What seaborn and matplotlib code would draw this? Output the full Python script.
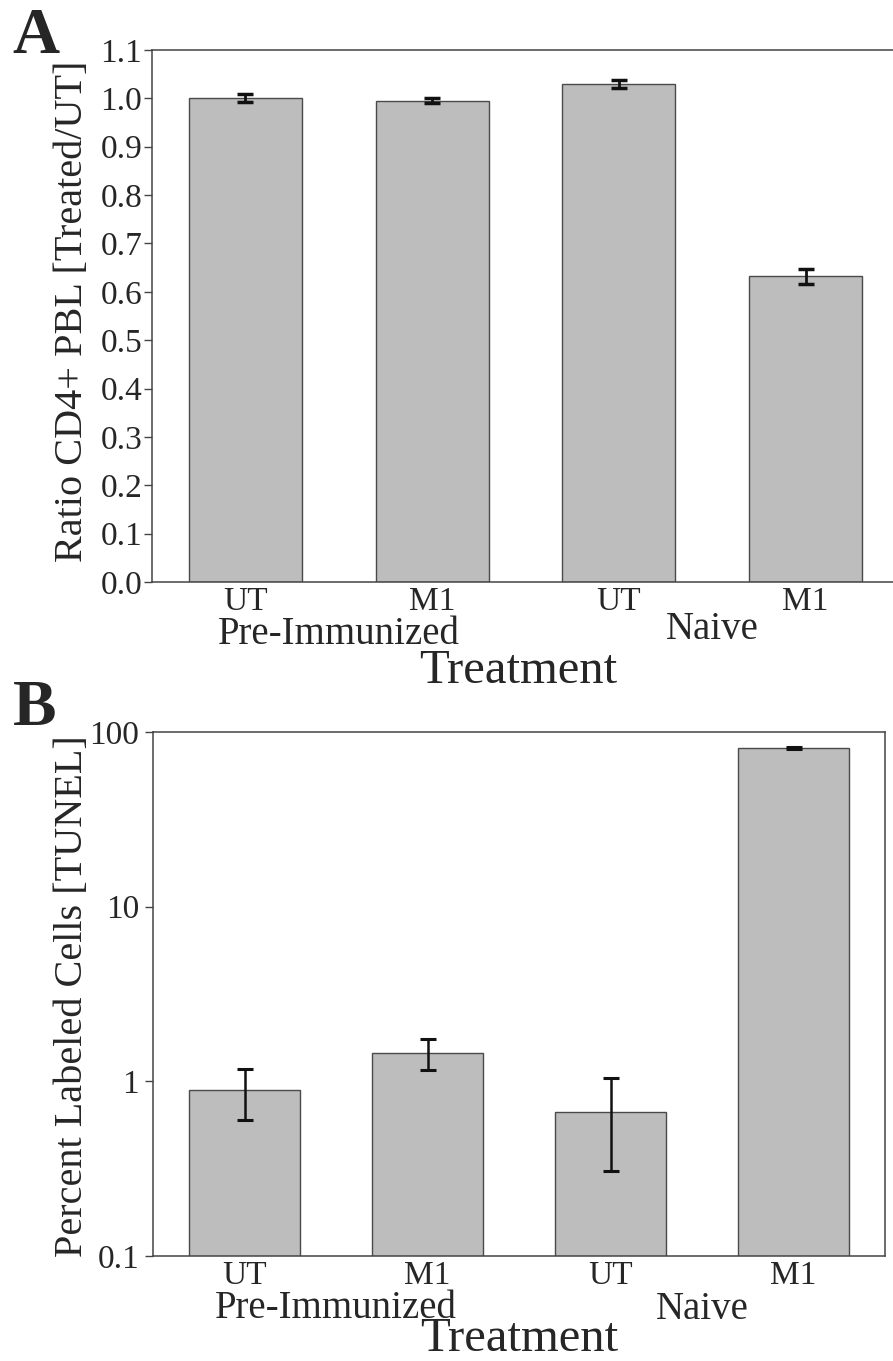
import numpy as np
import pandas as pd
import matplotlib
matplotlib.use("Agg")
import matplotlib.pyplot as plt
import matplotlib.transforms as mtransforms
from matplotlib.ticker import FixedLocator, NullLocator
import seaborn as sns

# data
treatments = ["UT", "M1", "UT", "M1"]
groups = ["Pre-Immunized", "Pre-Immunized", "Naive", "Naive"]
# panel A: ratio CD4+ PBL (treated / UT)
ratio_mean = [1.000, 0.995, 1.029, 0.632]
ratio_err = [0.008, 0.005, 0.008, 0.016]
# panel B: percent TUNEL labeled cells (log axis, asymmetric bars)
tunel_mean = [0.89, 1.46, 0.67, 81.3]
tunel_low = [0.60, 1.16, 0.306, 80.2]
tunel_high = [1.17, 1.75, 1.04, 82.4]

ratio_ticks = [0.0, 0.1, 0.2, 0.3, 0.4, 0.5, 0.6, 0.7, 0.8, 0.9, 1.0, 1.1]
tunel_ticks = [0.1, 1, 10, 100]
tunel_tick_labels = ["0.1", "1", "10", "100"]

sns.set_style("white")
plt.rcParams['font.family'] = ['Liberation Serif', 'DejaVu Serif']

df = pd.DataFrame({
    "key": [g + "_" + t for g, t in zip(groups, treatments)],
    "treatment": treatments,
    "group": groups,
    "ratio": ratio_mean,
    "tunel": tunel_mean,
})
order = list(df["key"])

W, H = 893, 1361
fig = plt.figure(figsize=(W / 100, H / 100), dpi=100)

def px_axes(left, top, right, bottom):
    return fig.add_axes([left / W, 1 - bottom / H, (right - left) / W, (bottom - top) / H])

ax_a = px_axes(152, 50, 899, 582)
ax_b = px_axes(153, 732, 885, 1256)

bar_color = "#bdbdbd"
edge_color = "#4a4a4a"
spine_color = "#444444"

for ax, col in [(ax_a, "ratio"), (ax_b, "tunel")]:
    sns.barplot(data=df, x="key", y=col, order=order, ax=ax, color=bar_color,
                edgecolor=edge_color, linewidth=1.0, errorbar=None, width=0.605,
                saturation=1)

x = np.arange(len(order))

# panel A
ax_a.errorbar(x, ratio_mean, yerr=ratio_err, fmt='none', ecolor='#111111',
              elinewidth=2.0, capsize=6, capthick=2.5)
ax_a.set_ylim(0, 1.1)
ax_a.set_xlim(-0.5, 3.5)
ax_a.yaxis.set_major_locator(FixedLocator(ratio_ticks))
ax_a.set_yticklabels(["%.1f" % t for t in ratio_ticks])
ax_a.spines['right'].set_visible(False)

# panel B
yerr_b = [np.array(tunel_mean) - np.array(tunel_low),
          np.array(tunel_high) - np.array(tunel_mean)]
ax_b.errorbar(x, tunel_mean, yerr=yerr_b, fmt='none', ecolor='#111111',
              elinewidth=1.8, capsize=6, capthick=2.2)
ax_b.set_yscale('log')
ax_b.set_ylim(0.1, 100)
ax_b.set_xlim(-0.5, 3.5)
ax_b.yaxis.set_major_locator(FixedLocator(tunel_ticks))
ax_b.yaxis.set_minor_locator(NullLocator())
ax_b.set_yticklabels(tunel_tick_labels)

for ax in (ax_a, ax_b):
    for s in ax.spines.values():
        s.set_color(spine_color)
        s.set_linewidth(1.1)
    ax.set_xticks(x)
    ax.set_xticklabels(treatments, fontsize=24)
    ax.tick_params(axis='x', length=0, pad=3)
    ax.tick_params(axis='y', left=True, length=6, width=1, color=spine_color,
                   direction='out', labelsize=24)
    ax.set_xlabel("")
    ax.set_ylabel("")

ax_a.tick_params(axis='y', pad=1)
ax_b.tick_params(axis='y', pad=4)

def fig_y(py):
    return 1 - py / H

# group labels and axis titles (data x, figure y)
tr_a = mtransforms.blended_transform_factory(ax_a.transData, fig.transFigure)
tr_b = mtransforms.blended_transform_factory(ax_b.transData, fig.transFigure)

ax_a.text(0.5, fig_y(644), "Pre-Immunized", transform=tr_a, ha='center', va='baseline', fontsize=28)
ax_a.text(2.5, fig_y(639), "Naive", transform=tr_a, ha='center', va='baseline', fontsize=28)
ax_a.text(1.46, fig_y(683), "Treatment", transform=tr_a, ha='center', va='baseline', fontsize=35)

ax_b.text(0.5, fig_y(1318), "Pre-Immunized", transform=tr_b, ha='center', va='baseline', fontsize=28)
ax_b.text(2.5, fig_y(1319), "Naive", transform=tr_b, ha='center', va='baseline', fontsize=28)
ax_b.text(1.5, fig_y(1351), "Treatment", transform=tr_b, ha='center', va='baseline', fontsize=35)

fig.text(73 / W, fig_y(311), "Ratio CD4+ PBL [Treated/UT]", rotation=90,
         ha='center', va='center', fontsize=29)
fig.text(73 / W, fig_y(996), "Percent Labeled Cells [TUNEL]", rotation=90,
         ha='center', va='center', fontsize=29)

fig.text(12 / W, fig_y(53), "A", fontsize=47, fontweight='bold', ha='left', va='baseline')
fig.text(13 / W, fig_y(725), "B", fontsize=47, fontweight='bold', ha='left', va='baseline')

fig.savefig("out.png", dpi=100)
